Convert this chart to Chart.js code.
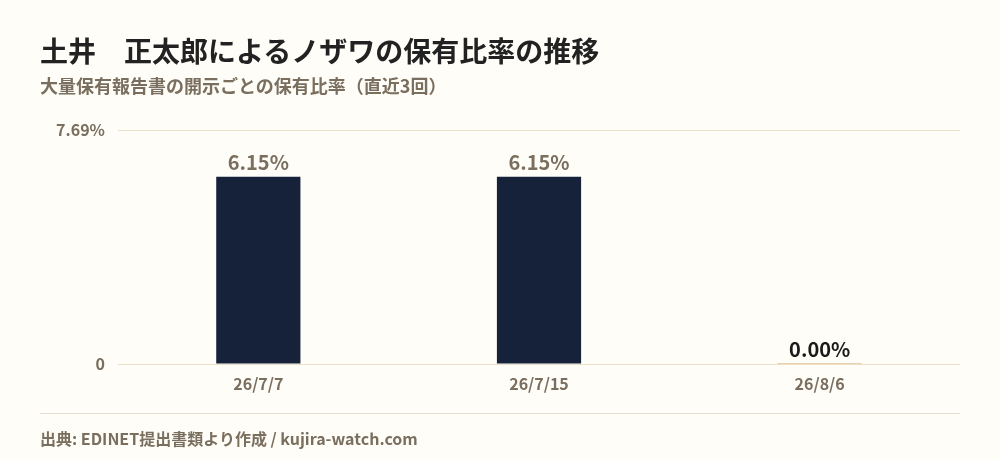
<!DOCTYPE html>
<html lang="ja">
<head>
<meta charset="utf-8">
<script src="https://cdn.jsdelivr.net/npm/chart.js@4/dist/chart.umd.min.js"></script>
<style>
  html, body { margin: 0; padding: 0; background: #fffdf8; }
  body { width: 1000px; height: 460px; position: relative; overflow: hidden;
         font-family: "Noto Sans CJK JP", "Noto Sans", sans-serif; }
  #wrap { position: absolute; left: 0; top: 0; width: 1000px; height: 460px; }
  .title { position: absolute; left: 40px; top: 30px; font-size: 28px; font-weight: 700; color: #222; line-height: 40px; white-space: pre; }
  .subtitle { position: absolute; left: 40px; top: 72px; font-size: 18px; font-weight: 700; color: #7a6e5e; line-height: 26px; }
  .rule { position: absolute; left: 40px; top: 413px; width: 920px; height: 1px; background: #e8dfcf; }
  .footer { position: absolute; left: 40px; top: 426px; font-size: 16px; font-weight: 700; color: #7a6e5e; line-height: 24px; }
</style>
</head>
<body>
<div id="wrap"><canvas id="chart" width="1000" height="460"></canvas></div>
<div class="title">土井　正太郎によるノザワの保有比率の推移</div>
<div class="subtitle">大量保有報告書の開示ごとの保有比率（直近3回）</div>
<div class="rule"></div>
<div class="footer">出典: EDINET提出書類より作成 / kujira-watch.com</div>
<script>
// Chart data.
const dates = ["26/7/7", "26/7/15", "26/8/6"];
const ratios = [6.15, 6.15, 0.00];
const yTicks = [0, 7.69];

const barColors = ["#16213a", "#16213a", "#d9a35f"];
const labelColors = ["#7a6e5e", "#7a6e5e", "#1a1a1a"];

// Draws the percentage above each bar.
const valueLabels = {
  id: "valueLabels",
  afterDatasetsDraw(chart) {
    const ctx = chart.ctx;
    const meta = chart.getDatasetMeta(0);
    ctx.save();
    ctx.font = "700 20px 'Noto Sans CJK JP', 'Noto Sans', sans-serif";
    ctx.textAlign = "center";
    ctx.textBaseline = "bottom";
    meta.data.forEach((bar, i) => {
      ctx.fillStyle = labelColors[i];
      ctx.fillText(ratios[i].toFixed(2) + "%", bar.x, bar.y - 4);
    });
    ctx.restore();
  }
};

new Chart(document.getElementById("chart"), {
  type: "bar",
  data: {
    labels: dates,
    datasets: [{
      data: ratios,
      backgroundColor: barColors,
      barPercentage: 0.3,
      categoryPercentage: 1,
      minBarLength: 1
    }]
  },
  options: {
    responsive: false,
    animation: false,
    layout: { padding: { left: 40, right: 40, top: 130, bottom: 0 } },
    plugins: { legend: { display: false }, tooltip: { enabled: false } },
    scales: {
      x: {
        grid: { display: false, drawTicks: false },
        border: { display: false },
        ticks: {
          color: "#7a6e5e",
          padding: 10,
          font: { family: "'Noto Sans CJK JP', 'Noto Sans', sans-serif", size: 16, weight: "700" }
        },
        afterFit(scale) { scale.height = 96; }
      },
      y: {
        min: yTicks[0],
        max: yTicks[yTicks.length - 1],
        grid: { color: "#ebe0ca", drawTicks: false },
        border: { display: false },
        afterBuildTicks(scale) { scale.ticks = yTicks.map(v => ({ value: v })); },
        afterFit(scale) { scale.width = 78; },
        ticks: {
          color: "#7a6e5e",
          padding: 13,
          font: { family: "'Noto Sans CJK JP', 'Noto Sans', sans-serif", size: 16, weight: "700" },
          callback: v => (v === 0 ? "0" : v + "%")
        }
      }
    }
  },
  plugins: [valueLabels]
});
</script>
</body>
</html>
